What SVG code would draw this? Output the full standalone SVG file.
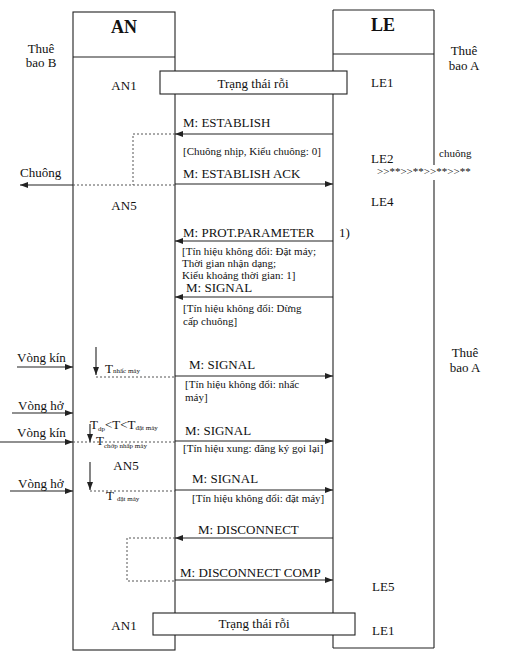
<svg xmlns="http://www.w3.org/2000/svg" width="507" height="651" viewBox="0 0 507 651">
<style>
text{font-family:"Liberation Serif","Times New Roman",serif;fill:#111;}
.t{font-size:13px;}
.s{font-size:11px;}
.h{font-size:18px;font-weight:bold;}
.c{text-anchor:middle;}
.box{fill:#fff;stroke:#222;stroke-width:1.1;}
.ln{fill:none;stroke:#222;stroke-width:1.1;}
.ar{fill:none;stroke:#222;stroke-width:1.1;marker-end:url(#ah);}
.dt{fill:none;stroke:#555;stroke-width:1;stroke-dasharray:2,2;}
</style>
<defs>
<marker id="ah" markerWidth="8" markerHeight="6" refX="8" refY="3" orient="auto" markerUnits="userSpaceOnUse">
<path d="M0,0 L8,3 L0,6 z" fill="#222"/>
</marker>
</defs>
<rect width="507" height="651" fill="#fff"/>

<g id="AN">
<rect class="box" x="73" y="12" width="102" height="638"/>
<line class="ln" x1="73" y1="57" x2="175" y2="57"/>
<text class="h c" x="124" y="33">AN</text>
<text class="t c" x="124" y="90">AN1</text>
<text class="t c" x="124" y="210">AN5</text>
<text class="t c" x="126" y="470">AN5</text>
<text class="t c" x="124" y="630">AN1</text>
</g>

<g id="LE">
<line class="ln" x1="333" y1="10" x2="434" y2="10"/>
<line class="ln" x1="333" y1="10" x2="333" y2="648"/>
<line class="ln" x1="333" y1="648" x2="434" y2="648"/>
<line class="ln" x1="434" y1="10" x2="434" y2="165"/>
<line class="ln" x1="434" y1="180" x2="434" y2="648"/>
<line class="ln" x1="333" y1="54" x2="434" y2="54"/>
<text class="h c" x="383" y="31">LE</text>
<text class="t" x="371" y="87">LE1</text>
<text class="t" x="371" y="163">LE2</text>
<text class="t" x="371" y="206">LE4</text>
<text class="t" x="372" y="591">LE5</text>
<text class="t" x="372" y="635">LE1</text>
</g>

<g id="idle-top">
<rect class="box" x="160" y="71" width="187" height="23"/>
<text class="t c" x="253" y="88">Trạng thái rỗi</text>
</g>

<g id="idle-bottom">
<rect class="box" x="153" y="613" width="202" height="22"/>
<text class="t c" x="254" y="628">Trạng thái rỗi</text>
</g>

<g id="subscriber-B">
<text class="t c" x="41" y="53">Thuê</text>
<text class="t c" x="41" y="67">bao B</text>
</g>

<g id="subscriber-A-top">
<text class="t c" x="464" y="55">Thuê</text>
<text class="t c" x="464" y="70">bao A</text>
</g>

<g id="subscriber-A">
<text class="t c" x="465" y="357">Thuê</text>
<text class="t c" x="465" y="372">bao A</text>
</g>

<g id="ringing">
<text class="s" x="439" y="157">chuông</text>
<text class="s" x="377" y="175">&gt;&gt;**&gt;&gt;**&gt;&gt;**&gt;&gt;**</text>
</g>

<g id="connectors">
<line class="ar" x1="333" y1="134" x2="175" y2="134"/>
<polyline class="dt" points="175,134 133,134 133,185"/>
<line class="dt" x1="175" y1="185" x2="73" y2="185"/>
<line class="ar" x1="73" y1="185" x2="20" y2="185"/>
<line class="ar" x1="175" y1="184" x2="333" y2="184"/>
<line class="ar" x1="333" y1="241" x2="175" y2="241"/>
<line class="ar" x1="333" y1="297" x2="175" y2="297"/>
<line class="ar" x1="17" y1="367" x2="73" y2="367"/>
<line class="ar" x1="96" y1="347" x2="96" y2="375"/>
<line class="dt" x1="96" y1="377" x2="175" y2="377"/>
<line class="ar" x1="175" y1="376" x2="333" y2="376"/>
<line class="ar" x1="12" y1="413" x2="73" y2="413"/>
<line class="ar" x1="90" y1="424" x2="90" y2="442"/>
<line class="ar" x1="0" y1="442" x2="73" y2="442"/>
<line class="dt" x1="73" y1="442" x2="175" y2="442"/>
<line class="ar" x1="175" y1="441" x2="333" y2="441"/>
<line class="ar" x1="90" y1="462" x2="90" y2="490"/>
<line class="dt" x1="90" y1="491" x2="175" y2="491"/>
<line class="ar" x1="10" y1="491" x2="73" y2="491"/>
<line class="ar" x1="175" y1="490" x2="333" y2="490"/>
<line class="ar" x1="333" y1="538" x2="175" y2="538"/>
<polyline class="dt" points="175,538 127,538 127,581 175,581"/>
<line class="ar" x1="175" y1="580" x2="333" y2="580"/>
</g>

<g id="labels">
<text class="t" x="183" y="127">M: ESTABLISH</text>
<text class="s" x="183" y="155">[Chuông nhịp, Kiểu chuông: 0]</text>
<text class="t" x="183" y="178">M: ESTABLISH ACK</text>
<text class="t" x="20" y="177">Chuông</text>
<text class="t" x="183" y="237">M: PROT.PARAMETER</text>
<text class="t" x="339" y="237">1)</text>
<text class="s" x="182" y="255">[Tín hiệu không đổi: Đặt máy;</text>
<text class="s" x="182" y="267">Thời gian nhận dạng;</text>
<text class="s" x="182" y="279">Kiểu khoảng thời gian: 1]</text>
<text class="t" x="186" y="292">M: SIGNAL</text>
<text class="s" x="183" y="312">[Tín hiệu không đổi: Dừng</text>
<text class="s" x="183" y="325">cấp chuông]</text>
<text class="t" x="17" y="362">Vòng kín</text>
<text class="t" x="105" y="373">T<tspan font-size="7">nhấc máy</tspan></text>
<text class="t" x="189" y="369">M: SIGNAL</text>
<text class="s" x="185" y="388">[Tín hiệu không đổi: nhấc</text>
<text class="s" x="185" y="401">máy]</text>
<text class="t" x="18" y="410">Vòng hở</text>
<text class="t" x="90" y="429">T<tspan font-size="7" dy="2">dp</tspan><tspan dy="-2">&lt;T&lt;T</tspan><tspan font-size="7" dy="1">đặt máy</tspan></text>
<text class="t" x="96" y="445">T<tspan font-size="7" dy="3">chớp nhấp máy</tspan></text>
<text class="t" x="17" y="437">Vòng kín</text>
<text class="t" x="185" y="435">M: SIGNAL</text>
<text class="s" x="183" y="452">[Tín hiệu xung: đăng ký gọi lại]</text>
<text class="t" x="18" y="488">Vòng hở</text>
<text class="t" x="106" y="500">T<tspan font-size="7" dx="3" dy="1">đặt máy</tspan></text>
<text class="t" x="192" y="483">M: SIGNAL</text>
<text class="s" x="192" y="502">[Tín hiệu không đổi: đặt máy]</text>
<text class="t" x="198" y="534">M: DISCONNECT</text>
<text class="t" x="180" y="577">M: DISCONNECT COMP</text>
</g>
</svg>
